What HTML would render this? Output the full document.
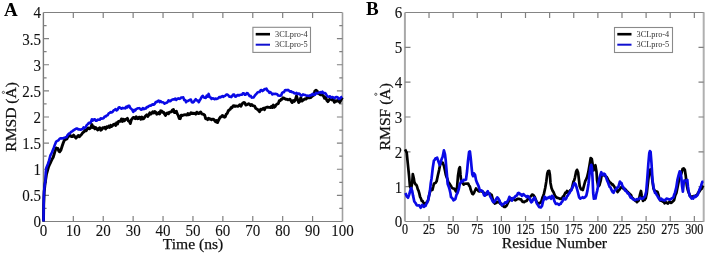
<!DOCTYPE html>
<html><head><meta charset="utf-8"><style>
html,body{margin:0;padding:0;background:#fff;}
svg{display:block;will-change:transform;}
text{font-family:"Liberation Serif",serif;fill:#111;}
.t{font-size:16px;stroke:#111;stroke-width:0.1px;}
.tb{font-size:13.4px;stroke:#111;stroke-width:0.22px;}
.ti{font-size:15.6px;stroke:#111;stroke-width:0.25px;}
.pl{font-size:19px;font-weight:bold;fill:#000;}
.lg{font-size:8.3px;fill:#333;}
</style></head><body>
<svg width="707" height="254" viewBox="0 0 707 254">
<path d="M43.4 12.5H342.5M43.4 221.5H342.5" stroke="#808080" stroke-width="1.15"/>
<path d="M43.4 12.5V221.5" stroke="#7a7a7a" stroke-width="1.4"/>
<path d="M342.5 12.5V221.5" stroke="#a0a0a0" stroke-width="1.6"/>
<path d="M73.31 221.5v-5.6M73.31 12.5v5.6M103.22 221.5v-5.6M103.22 12.5v5.6M133.13 221.5v-5.6M133.13 12.5v5.6M163.04 221.5v-5.6M163.04 12.5v5.6M192.95 221.5v-5.6M192.95 12.5v5.6M222.86 221.5v-5.6M222.86 12.5v5.6M252.77 221.5v-5.6M252.77 12.5v5.6M282.68 221.5v-5.6M282.68 12.5v5.6M312.59 221.5v-5.6M312.59 12.5v5.6M43.4 208.44h3.2M342.5 208.44h-3.2M43.4 195.38h5.6M342.5 195.38h-5.6M43.4 182.31h3.2M342.5 182.31h-3.2M43.4 169.25h5.6M342.5 169.25h-5.6M43.4 156.19h3.2M342.5 156.19h-3.2M43.4 143.12h5.6M342.5 143.12h-5.6M43.4 130.06h3.2M342.5 130.06h-3.2M43.4 117.00h5.6M342.5 117.00h-5.6M43.4 103.94h3.2M342.5 103.94h-3.2M43.4 90.88h5.6M342.5 90.88h-5.6M43.4 77.81h3.2M342.5 77.81h-3.2M43.4 64.75h5.6M342.5 64.75h-5.6M43.4 51.69h3.2M342.5 51.69h-3.2M43.4 38.62h5.6M342.5 38.62h-5.6M43.4 25.56h3.2M342.5 25.56h-3.2" stroke="#808080" stroke-width="1.2" fill="none"/>
<text transform="translate(43.40 235.6) scale(0.94 1.09)" class="t" text-anchor="middle">0</text>
<text transform="translate(73.31 235.6) scale(0.94 1.09)" class="t" text-anchor="middle">10</text>
<text transform="translate(103.22 235.6) scale(0.94 1.09)" class="t" text-anchor="middle">20</text>
<text transform="translate(133.13 235.6) scale(0.94 1.09)" class="t" text-anchor="middle">30</text>
<text transform="translate(163.04 235.6) scale(0.94 1.09)" class="t" text-anchor="middle">40</text>
<text transform="translate(192.95 235.6) scale(0.94 1.09)" class="t" text-anchor="middle">50</text>
<text transform="translate(222.86 235.6) scale(0.94 1.09)" class="t" text-anchor="middle">60</text>
<text transform="translate(252.77 235.6) scale(0.94 1.09)" class="t" text-anchor="middle">70</text>
<text transform="translate(282.68 235.6) scale(0.94 1.09)" class="t" text-anchor="middle">80</text>
<text transform="translate(312.59 235.6) scale(0.94 1.09)" class="t" text-anchor="middle">90</text>
<text transform="translate(342.50 235.6) scale(0.94 1.09)" class="t" text-anchor="middle">100</text>
<text transform="translate(41 227.40) scale(0.94 1.09)" class="t" text-anchor="end">0</text>
<text transform="translate(41 201.28) scale(0.94 1.09)" class="t" text-anchor="end">0.5</text>
<text transform="translate(41 175.15) scale(0.94 1.09)" class="t" text-anchor="end">1</text>
<text transform="translate(41 149.03) scale(0.94 1.09)" class="t" text-anchor="end">1.5</text>
<text transform="translate(41 122.90) scale(0.94 1.09)" class="t" text-anchor="end">2</text>
<text transform="translate(41 96.78) scale(0.94 1.09)" class="t" text-anchor="end">2.5</text>
<text transform="translate(41 70.65) scale(0.94 1.09)" class="t" text-anchor="end">3</text>
<text transform="translate(41 44.52) scale(0.94 1.09)" class="t" text-anchor="end">3.5</text>
<text transform="translate(41 18.40) scale(0.94 1.09)" class="t" text-anchor="end">4</text>
<text x="193" y="249" class="ti" text-anchor="middle">Time (ns)</text>
<text transform="translate(16.2 116.9) rotate(-90)" class="ti" text-anchor="middle">RMSD (A)</text>
<circle cx="3.4" cy="92.4" r="1.1" fill="none" stroke="#333" stroke-width="0.8"/>
<text x="4" y="15.5" class="pl">A</text>
<path d="M404.9 12.5H704.2M404.9 221.5H704.2" stroke="#858585" stroke-width="1.15"/>
<path d="M404.9 12.5V221.5" stroke="#a8a8a8" stroke-width="2"/>
<path d="M703.7 12.5V221.5" stroke="#b0b0b0" stroke-width="2.0"/>
<path d="M429.02 221.5v-5.6M429.02 12.5v5.6M453.14 221.5v-5.6M453.14 12.5v5.6M477.26 221.5v-5.6M477.26 12.5v5.6M501.38 221.5v-5.6M501.38 12.5v5.6M525.50 221.5v-5.6M525.50 12.5v5.6M549.63 221.5v-5.6M549.63 12.5v5.6M573.75 221.5v-5.6M573.75 12.5v5.6M597.87 221.5v-5.6M597.87 12.5v5.6M621.99 221.5v-5.6M621.99 12.5v5.6M646.11 221.5v-5.6M646.11 12.5v5.6M670.23 221.5v-5.6M670.23 12.5v5.6M694.35 221.5v-5.6M694.35 12.5v5.6M404.9 186.67h5.6M703.7 186.67h-5.2M404.9 151.83h5.6M703.7 151.83h-5.2M404.9 117.00h5.6M703.7 117.00h-5.2M404.9 82.17h5.6M703.7 82.17h-5.2M404.9 47.33h5.6M703.7 47.33h-5.2" stroke="#808080" stroke-width="1.2" fill="none"/>
<text transform="translate(404.90 234) scale(0.9 1.07)" class="tb" text-anchor="middle">0</text>
<text transform="translate(429.02 234) scale(0.9 1.07)" class="tb" text-anchor="middle">25</text>
<text transform="translate(453.14 234) scale(0.9 1.07)" class="tb" text-anchor="middle">50</text>
<text transform="translate(477.26 234) scale(0.9 1.07)" class="tb" text-anchor="middle">75</text>
<text transform="translate(501.38 234) scale(0.9 1.07)" class="tb" text-anchor="middle">100</text>
<text transform="translate(525.50 234) scale(0.9 1.07)" class="tb" text-anchor="middle">125</text>
<text transform="translate(549.63 234) scale(0.9 1.07)" class="tb" text-anchor="middle">150</text>
<text transform="translate(573.75 234) scale(0.9 1.07)" class="tb" text-anchor="middle">175</text>
<text transform="translate(597.87 234) scale(0.9 1.07)" class="tb" text-anchor="middle">200</text>
<text transform="translate(621.99 234) scale(0.9 1.07)" class="tb" text-anchor="middle">225</text>
<text transform="translate(646.11 234) scale(0.9 1.07)" class="tb" text-anchor="middle">250</text>
<text transform="translate(670.23 234) scale(0.9 1.07)" class="tb" text-anchor="middle">275</text>
<text transform="translate(694.35 234) scale(0.9 1.07)" class="tb" text-anchor="middle">300</text>
<text transform="translate(402.3 227.40) scale(0.94 1.09)" class="t" text-anchor="end">0</text>
<text transform="translate(402.3 192.57) scale(0.94 1.09)" class="t" text-anchor="end">1</text>
<text transform="translate(402.3 157.73) scale(0.94 1.09)" class="t" text-anchor="end">2</text>
<text transform="translate(402.3 122.90) scale(0.94 1.09)" class="t" text-anchor="end">3</text>
<text transform="translate(402.3 88.07) scale(0.94 1.09)" class="t" text-anchor="end">4</text>
<text transform="translate(402.3 53.23) scale(0.94 1.09)" class="t" text-anchor="end">5</text>
<text transform="translate(402.3 18.40) scale(0.94 1.09)" class="t" text-anchor="end">6</text>
<text x="554.4" y="247.6" class="ti" text-anchor="middle">Residue Number</text>
<text transform="translate(389.8 116.75) rotate(-90)" class="ti" text-anchor="middle">RMSF (A)</text>
<circle cx="375.8" cy="94.3" r="1.1" fill="none" stroke="#333" stroke-width="0.8"/>
<text x="366" y="15" class="pl">B</text>
<path d="M43.50,221.50 43.70,205.00 44.20,192.00 45.00,184.00 45.75,179.00 46.50,174.00 47.50,170.50 48.50,167.00 49.50,164.75 50.50,162.56 51.25,160.89 52.00,159.36 53.20,157.23 54.10,154.28 55.00,151.19 56.20,147.91 57.05,148.57 57.90,148.41 58.80,151.05 59.70,151.79 60.90,150.07 62.10,146.30 63.30,142.80 64.40,140.14 65.70,139.43 66.90,138.99 68.10,136.13 69.17,136.13 70.23,135.39 71.30,136.46 72.45,136.66 73.60,135.07 74.80,136.72 76.00,138.10 77.15,136.74 78.30,135.45 79.37,136.68 80.43,135.51 81.50,134.47 82.70,132.77 83.90,131.93 85.05,130.11 86.20,130.65 87.35,128.77 88.50,128.04 89.63,128.83 90.77,127.71 91.90,124.53 92.88,127.60 93.87,126.87 94.85,128.79 95.83,127.65 96.82,128.89 97.80,129.93 98.78,128.39 99.77,127.76 100.75,130.17 101.73,129.57 102.72,127.76 103.70,128.10 104.70,127.23 105.70,128.90 106.70,126.77 107.70,127.45 108.70,126.13 109.70,127.40 110.68,125.38 111.67,126.49 112.65,125.42 113.63,124.34 114.62,124.00 115.60,125.47 116.58,122.87 117.57,123.86 118.55,121.34 119.53,121.23 120.52,121.21 121.50,118.90 122.48,121.41 123.47,119.24 124.45,120.75 125.43,119.36 126.42,119.12 127.40,118.35 128.37,120.97 129.33,121.28 130.30,123.55 131.30,119.91 132.30,118.60 133.28,117.36 134.26,117.70 135.24,118.61 136.22,116.67 137.20,118.72 138.10,118.67 139.00,117.28 139.90,117.32 140.88,119.22 141.87,116.96 142.85,118.89 143.83,118.52 144.82,116.91 145.80,115.67 146.80,114.70 147.80,116.51 148.80,114.95 149.80,112.86 150.78,114.11 151.75,113.13 152.72,111.69 153.70,112.98 154.70,111.42 155.70,112.13 156.70,114.18 157.70,113.83 158.67,112.48 159.65,113.85 160.62,110.83 161.60,110.97 162.57,112.35 163.55,112.16 164.53,113.96 165.50,115.50 166.50,113.28 167.50,112.94 168.50,113.79 169.50,112.08 170.47,112.10 171.45,111.73 172.43,109.96 173.40,109.48 174.38,112.52 175.35,112.48 176.33,111.24 177.30,113.89 178.30,115.66 179.30,118.56 180.28,118.67 181.25,115.17 182.22,115.58 183.20,115.21 184.14,114.88 185.08,114.71 186.02,114.87 186.96,115.13 187.90,113.47 188.90,114.72 189.90,114.34 190.90,112.76 191.90,113.50 192.88,113.18 193.85,113.62 194.83,113.23 195.80,114.09 196.78,112.14 197.75,113.14 198.72,113.57 199.70,112.69 200.70,112.04 201.70,113.77 202.70,114.09 203.70,114.45 204.67,115.15 205.63,118.71 206.60,118.38 207.60,119.68 208.60,118.26 209.60,119.15 210.57,119.00 211.55,119.74 212.53,119.25 213.50,119.18 214.50,120.32 215.50,121.71 216.50,120.48 217.50,122.59 218.47,120.50 219.45,118.49 220.43,116.92 221.40,116.81 222.38,115.42 223.35,115.99 224.33,117.19 225.30,116.83 226.30,114.12 227.30,113.35 228.30,110.75 229.27,110.01 230.23,109.21 231.20,107.49 232.14,107.67 233.08,105.86 234.02,105.63 234.96,106.49 235.90,106.07 236.90,106.11 237.90,106.33 238.90,105.58 239.90,104.71 240.88,106.20 241.85,104.37 242.83,102.96 243.80,102.50 244.78,102.81 245.75,104.94 246.72,104.81 247.70,104.34 248.70,103.76 249.70,104.32 250.70,105.44 251.70,104.47 252.67,105.56 253.65,105.80 254.62,106.05 255.60,108.19 256.60,108.86 257.60,109.56 258.60,110.62 259.60,111.67 260.58,109.29 261.55,109.87 262.52,108.85 263.50,108.18 264.48,109.68 265.45,107.66 266.42,107.39 267.40,107.07 268.40,107.30 269.40,107.37 270.40,107.57 271.40,106.37 272.38,107.59 273.35,105.07 274.32,107.21 275.30,106.40 276.30,104.65 277.30,103.99 278.30,103.66 279.27,100.67 280.23,100.65 281.20,99.19 282.10,99.37 283.00,97.79 283.90,98.08 284.90,98.68 285.90,99.34 286.90,99.23 287.90,99.82 288.95,99.63 290.00,99.15 291.10,101.10 292.20,102.54 293.25,100.46 294.30,101.35 295.40,99.68 296.50,95.95 297.60,99.60 298.70,102.55 299.75,101.46 300.80,97.76 301.90,101.13 303.00,100.23 304.07,99.44 305.13,98.85 306.20,99.07 307.30,97.01 308.40,97.71 309.50,97.78 310.57,97.57 311.63,96.61 312.70,95.77 313.80,95.20 314.90,90.93 316.00,90.32 317.05,90.92 318.10,93.41 319.20,93.69 320.30,94.87 321.40,94.89 322.47,95.01 323.53,96.02 324.60,98.29 325.70,97.41 326.80,100.26 327.90,101.65 328.97,100.21 330.03,98.81 331.10,99.40 332.20,100.12 333.30,99.10 334.40,102.33 335.47,100.82 336.53,101.37 337.60,100.44 338.70,101.06 339.80,102.44 341.05,99.92 342.30,97.47" fill="none" stroke="#000" stroke-width="2.9" stroke-linejoin="round"/>
<path d="M43.50,221.50 43.60,210.00 43.80,197.30 44.20,190.00 44.70,185.20 45.50,180.00 45.70,173.00 46.30,168.00 47.10,166.00 47.90,164.00 49.10,160.40 50.30,155.70 51.15,153.98 52.00,152.24 52.90,150.04 53.80,147.72 55.00,144.41 56.20,141.54 57.35,140.94 58.50,140.35 59.70,138.63 60.90,138.18 62.10,138.34 63.30,138.21 64.37,137.86 65.43,137.31 66.50,137.22 67.70,134.86 68.90,133.60 69.93,133.39 70.97,131.88 72.00,131.45 73.07,130.61 74.13,129.84 75.20,129.27 76.23,128.56 77.27,128.58 78.30,129.37 79.37,129.39 80.43,129.79 81.50,129.25 82.53,129.20 83.57,127.42 84.60,128.07 85.67,127.27 86.73,125.10 87.80,124.11 88.90,122.76 90.00,123.16 90.95,121.88 91.90,119.30 92.88,120.50 93.87,119.57 94.85,119.24 95.83,120.71 96.82,120.77 97.80,119.61 98.78,119.70 99.77,119.80 100.75,118.28 101.73,118.66 102.72,118.54 103.70,118.08 104.70,116.56 105.70,116.50 106.70,115.42 107.70,115.22 108.70,113.43 109.70,112.93 110.68,112.11 111.67,112.45 112.65,111.83 113.63,110.35 114.62,109.79 115.60,109.19 116.57,110.35 117.55,109.82 118.53,107.74 119.50,107.26 120.48,108.11 121.47,108.73 122.45,107.88 123.43,108.18 124.42,108.09 125.40,108.34 126.38,106.58 127.35,107.37 128.33,105.80 129.30,105.91 130.30,108.02 131.30,108.89 132.30,109.89 133.30,111.93 134.28,109.84 135.25,110.49 136.22,109.07 137.20,108.52 138.14,108.33 139.08,108.16 140.02,108.63 140.96,109.71 141.90,109.47 142.88,108.09 143.85,109.11 144.83,108.61 145.80,108.46 146.80,106.95 147.80,107.23 148.80,106.13 149.80,105.58 150.78,105.60 151.75,104.91 152.72,104.22 153.70,104.73 154.70,103.96 155.70,102.01 156.70,102.20 157.70,101.10 158.67,100.50 159.65,102.10 160.62,101.15 161.60,102.10 162.57,102.23 163.55,102.47 164.53,103.65 165.50,103.13 166.50,102.70 167.50,102.26 168.50,100.32 169.50,101.12 170.47,101.23 171.45,100.13 172.43,99.49 173.40,99.41 174.38,99.44 175.35,98.54 176.33,99.85 177.30,98.88 178.30,98.37 179.30,98.86 180.30,98.51 181.30,97.46 182.30,97.47 183.27,97.36 184.23,100.07 185.20,99.95 186.10,102.18 187.00,101.09 187.97,101.05 188.93,100.36 189.90,99.84 190.90,99.61 191.90,102.27 192.90,102.43 193.87,101.66 194.83,100.28 195.80,99.20 196.80,100.46 197.80,100.62 198.80,102.20 199.78,100.16 200.75,98.72 201.72,96.94 202.70,95.79 203.70,97.19 204.70,97.83 205.70,97.94 206.67,95.65 207.63,96.63 208.60,93.93 209.60,97.00 210.60,97.46 211.60,98.97 212.57,98.30 213.55,98.61 214.53,99.19 215.50,98.52 216.47,98.99 217.45,98.57 218.43,98.04 219.40,96.97 220.40,97.35 221.40,96.63 222.40,96.10 223.40,96.84 224.37,96.02 225.33,95.74 226.30,94.58 227.30,94.57 228.30,95.32 229.30,96.60 230.30,96.67 231.27,97.06 232.23,95.98 233.20,94.43 234.10,94.55 235.00,96.47 235.90,96.62 236.90,95.47 237.90,94.98 238.90,95.49 239.90,94.94 240.88,94.81 241.85,94.79 242.83,93.41 243.80,93.27 244.78,94.66 245.75,94.67 246.72,93.06 247.70,93.18 248.70,94.83 249.70,96.09 250.70,95.91 251.70,97.59 252.70,97.56 253.67,97.40 254.63,95.81 255.60,94.64 256.60,93.60 257.60,92.38 258.60,91.95 259.60,92.06 260.58,90.33 261.55,90.03 262.52,91.03 263.50,90.27 264.47,89.16 265.43,89.23 266.40,88.55 267.40,90.61 268.40,91.22 269.40,92.78 270.40,92.04 271.40,93.07 272.40,94.47 273.38,93.80 274.35,94.01 275.32,93.79 276.30,94.06 277.27,94.35 278.25,95.58 279.23,95.70 280.20,95.59 281.13,95.47 282.07,93.01 283.00,92.21 283.97,92.11 284.93,90.31 285.90,90.07 286.92,90.36 287.95,89.89 288.98,90.52 290.00,91.74 291.07,91.31 292.15,92.28 293.23,92.27 294.30,93.24 295.40,93.55 296.50,92.90 297.60,94.08 298.70,93.53 299.77,94.01 300.85,95.46 301.93,95.55 303.00,94.42 304.07,94.83 305.15,95.09 306.23,95.42 307.30,95.67 308.38,95.73 309.45,95.89 310.53,95.06 311.60,95.34 312.70,93.79 313.80,94.76 314.90,94.81 316.00,92.89 317.07,93.37 318.15,92.92 319.23,92.45 320.30,92.17 321.37,92.85 322.43,91.75 323.50,93.10 324.60,92.95 325.70,93.64 326.80,95.65 327.87,96.67 328.93,96.73 330.00,96.34 331.10,97.72 332.20,96.95 333.30,97.36 334.37,98.23 335.43,97.53 336.50,97.02 337.60,97.27 338.70,98.88 339.80,98.65 341.05,97.28 342.30,96.53" fill="none" stroke="#0a0ae6" stroke-width="2.6" stroke-linejoin="round"/>
<path d="M405.10,149.40 405.90,151.00 406.70,152.59 407.50,160.57 408.30,168.41 409.10,176.33 409.90,186.18 411.10,188.68 412.20,183.02 412.80,174.02 413.80,178.23 414.30,181.65 415.40,184.30 416.20,184.70 417.00,186.34 417.75,189.04 418.50,190.53 419.30,193.38 420.10,196.89 420.90,198.31 421.70,200.86 422.50,200.78 423.30,202.33 424.05,203.56 424.80,204.49 425.60,203.25 426.40,202.69 427.20,201.69 428.00,200.77 428.80,196.40 429.60,193.35 430.35,191.11 431.10,188.80 432.40,189.90 433.15,186.98 433.90,183.71 434.70,183.26 435.50,182.99 436.60,181.36 437.90,175.24 439.10,170.07 440.20,164.37 441.30,162.56 442.60,162.64 443.90,165.78 445.00,170.77 445.75,174.49 446.50,176.98 447.30,178.61 448.10,181.63 448.90,182.97 449.70,183.94 450.50,185.34 451.30,186.52 452.05,187.99 452.80,188.32 453.60,188.48 454.40,188.92 455.20,190.36 456.00,191.62 457.10,186.80 458.00,175.65 459.10,168.72 459.90,167.12 460.50,174.66 461.30,181.82 462.45,182.87 463.60,184.59 464.80,183.72 466.00,183.75 467.15,183.56 468.30,183.70 469.10,185.65 469.90,186.48 470.70,189.60 471.50,191.72 472.30,193.80 473.10,194.14 473.85,193.07 474.60,191.46 476.00,188.52 476.80,189.70 477.60,189.73 478.55,191.16 479.50,191.38 480.50,190.68 481.50,191.46 482.70,191.64 483.90,193.16 484.70,193.32 485.50,194.96 486.25,194.34 487.00,194.44 487.80,193.51 488.60,193.45 489.40,194.00 490.20,193.70 490.95,194.96 491.70,194.95 492.50,198.20 493.30,201.65 494.10,202.61 494.90,203.52 495.70,202.22 496.50,202.79 497.25,201.78 498.00,201.89 498.80,202.34 499.60,202.31 500.40,203.97 501.20,203.69 502.40,205.66 503.60,206.21 504.35,206.96 505.10,207.02 505.90,206.27 506.70,205.55 508.00,202.66 509.10,200.58 510.25,200.12 511.40,198.36 512.27,198.95 513.13,199.45 514.00,199.16 515.20,200.26 516.40,199.70 517.55,198.83 518.70,198.85 519.90,199.29 521.10,199.26 521.90,201.07 522.70,201.93 523.45,201.63 524.20,202.12 525.40,201.27 526.60,200.87 527.80,199.20 529.00,198.50 529.75,197.47 530.50,196.51 531.30,195.87 532.10,194.54 532.90,194.86 533.70,195.38 534.85,197.17 536.00,200.48 536.80,202.07 537.60,203.01 538.40,203.17 539.20,203.45 540.00,202.71 540.80,202.38 541.55,200.81 542.30,198.05 543.10,196.08 543.90,193.91 545.20,188.06 546.30,181.46 547.30,173.52 548.00,171.36 549.20,170.87 549.90,174.79 550.50,182.90 551.50,187.90 552.60,190.68 553.60,192.32 554.35,194.20 555.10,195.97 556.30,197.27 557.50,197.98 558.70,198.18 559.90,198.82 561.05,198.71 562.20,198.08 563.00,196.41 563.80,196.10 564.60,194.25 565.40,192.57 566.20,192.96 567.00,190.99 567.75,192.47 568.50,192.39 569.30,191.58 570.10,190.37 570.90,190.12 571.70,189.09 572.55,185.49 573.40,181.77 574.20,180.40 575.00,177.30 576.10,171.64 577.00,169.80 578.10,172.46 578.90,179.46 579.70,186.27 581.10,189.34 581.95,189.25 582.80,190.08 584.00,185.67 585.20,181.23 586.15,179.39 587.10,177.13 588.30,172.13 589.60,164.63 590.70,158.02 591.80,158.98 592.80,165.20 593.50,170.34 594.30,167.40 595.40,165.24 596.50,171.67 597.10,180.60 598.20,186.56 599.40,185.40 600.70,180.74 601.80,174.50 602.60,175.24 603.40,174.34 604.20,174.83 605.00,175.87 605.75,176.37 606.50,176.86 607.30,178.05 608.10,179.59 608.90,180.92 609.70,182.50 610.50,182.67 611.30,183.51 612.05,184.57 612.80,184.44 613.60,185.64 614.40,186.71 615.20,188.52 616.00,188.48 616.80,190.62 617.60,192.06 618.35,191.02 619.10,190.04 619.90,189.10 620.70,187.73 621.50,187.00 622.30,187.07 623.10,188.28 623.90,189.10 624.95,188.92 626.00,190.27 627.00,191.29 628.00,192.23 629.00,193.35 630.00,194.13 631.00,195.06 632.00,197.49 633.00,198.23 634.25,200.01 635.50,200.89 636.25,201.01 637.00,202.15 637.80,201.09 638.60,200.76 639.90,194.94 641.00,190.97 641.70,195.55 643.00,200.83 643.80,199.50 644.60,199.92 645.70,198.35 646.80,193.29 648.00,182.44 649.20,172.36 650.40,169.40 651.50,174.12 652.50,181.34 653.50,188.56 654.30,190.43 655.10,190.70 655.90,191.31 656.70,191.46 657.50,191.89 658.30,194.36 659.10,197.59 659.85,199.16 660.60,200.67 661.80,200.80 663.00,201.76 663.80,201.74 664.60,203.29 666.00,202.18 667.00,202.99 668.00,203.53 669.00,202.20 670.00,202.12 671.00,202.82 672.00,202.23 673.00,201.35 674.00,200.30 675.25,195.49 676.50,192.61 677.50,187.42 678.50,182.41 679.40,179.11 680.30,176.29 681.30,173.78 682.60,168.95 683.70,168.33 684.80,169.81 685.70,175.52 686.80,185.43 687.60,189.29 688.40,191.92 689.20,193.57 690.00,196.00 691.15,196.43 692.30,197.20 693.50,196.03 694.70,196.88 695.85,195.52 697.00,195.04 698.20,192.61 699.40,191.64 700.60,189.55 701.80,188.72 702.65,186.57 703.50,185.70" fill="none" stroke="#000" stroke-width="2.7" stroke-linejoin="round"/>
<path d="M405.50,193.10 406.70,196.28 408.00,197.71 409.10,194.87 410.20,190.99 411.10,188.07 412.20,190.92 413.00,195.39 414.30,201.50 415.10,202.55 415.90,203.66 416.65,205.10 417.40,205.50 418.20,205.52 419.00,205.30 419.80,206.12 420.60,207.78 421.40,206.36 422.20,204.93 423.10,206.33 424.00,206.89 424.80,205.63 425.60,205.85 426.40,203.78 427.20,202.52 428.00,200.20 428.80,197.41 430.00,190.33 430.80,182.88 431.60,178.21 432.80,167.60 433.90,160.65 434.70,159.84 435.50,158.40 436.30,158.62 437.10,157.65 437.90,160.01 438.70,162.22 439.80,165.19 441.00,161.22 441.80,158.62 442.60,157.02 443.90,150.40 445.00,154.30 445.70,160.06 446.00,164.01 447.00,175.63 447.70,184.10 448.55,186.16 449.40,188.74 450.50,193.57 451.00,197.04 451.85,197.82 452.70,198.72 453.50,200.25 454.30,199.84 455.40,198.96 456.50,194.77 457.60,192.76 458.70,189.40 459.80,183.99 460.65,182.76 461.50,180.90 462.55,181.56 463.60,179.86 464.80,180.07 466.00,179.58 467.10,171.00 468.00,160.84 469.10,151.95 469.90,151.44 470.70,157.85 471.50,166.30 472.30,174.32 473.10,176.09 473.90,173.31 475.00,174.75 476.00,180.07 477.20,183.18 478.40,185.62 479.15,188.00 479.90,190.77 480.70,190.30 481.50,190.61 482.30,190.96 483.10,192.07 483.90,194.97 484.70,195.66 485.45,194.96 486.20,194.11 487.00,192.08 487.80,191.28 488.60,193.21 489.40,194.03 490.20,196.39 491.00,197.75 491.75,199.25 492.50,200.83 493.30,202.19 494.10,202.20 494.90,201.19 495.70,199.76 496.50,198.53 497.30,197.39 498.05,198.20 498.80,199.35 499.60,200.73 500.40,203.29 501.20,204.00 502.00,205.41 502.80,204.09 503.60,203.94 504.35,203.62 505.10,202.41 505.90,202.63 506.70,202.63 507.50,201.30 508.30,200.05 509.40,196.89 510.60,198.10 511.90,200.68 513.20,198.11 514.60,197.61 515.60,196.10 516.35,195.81 517.10,195.27 517.90,193.23 518.70,192.85 519.50,193.34 520.30,194.44 521.10,194.46 521.90,195.88 522.65,195.13 523.40,194.08 524.20,195.13 525.00,195.66 525.80,196.16 526.60,197.13 527.40,195.99 528.20,196.19 528.95,197.51 529.70,198.09 530.50,200.89 531.30,202.26 532.10,201.63 532.90,199.71 533.70,198.59 534.50,197.49 535.25,199.70 536.00,200.84 536.80,203.46 537.60,204.52 538.40,205.81 539.20,207.08 540.00,207.06 540.80,207.43 542.00,205.88 543.10,201.09 543.90,199.43 544.70,196.72 545.50,198.04 546.30,199.19 547.10,197.80 547.90,198.06 548.65,197.69 549.40,196.82 550.20,197.08 551.00,198.79 552.00,195.90 553.30,196.85 554.40,201.18 555.15,202.79 555.90,203.86 556.70,203.79 557.50,203.62 558.30,204.36 559.10,204.87 559.90,204.03 560.70,203.74 561.45,202.38 562.20,201.58 563.00,200.09 563.80,198.11 564.60,199.28 565.40,199.47 566.20,198.48 567.00,196.33 567.75,195.70 568.50,194.09 569.30,193.37 570.10,191.68 570.90,190.74 571.70,189.32 572.50,187.36 573.30,185.65 574.40,183.03 575.60,184.19 576.90,188.49 578.00,192.77 579.10,197.24 580.30,198.56 581.10,197.96 581.90,197.64 582.70,197.21 583.50,197.91 584.30,197.78 585.10,197.18 586.30,195.67 587.40,190.88 588.50,183.69 589.50,174.46 590.50,167.03 591.30,164.83 592.00,168.35 592.60,179.49 593.20,193.01 593.90,198.73 594.70,198.20 595.50,198.47 596.30,194.22 597.10,191.12 597.90,187.00 598.70,181.63 599.45,178.15 600.20,175.55 601.30,172.24 602.60,174.99 603.90,173.61 605.00,174.37 606.10,177.39 607.30,180.96 608.10,182.62 608.90,184.99 609.70,186.94 610.50,187.34 611.25,189.45 612.00,190.96 612.80,192.15 613.60,192.75 614.40,190.62 615.20,190.07 616.00,189.19 616.80,188.12 617.55,187.25 618.30,187.15 619.10,184.45 619.90,181.63 620.70,182.55 621.50,183.15 622.30,185.62 623.10,187.08 623.85,188.14 624.60,189.34 625.40,190.99 626.20,190.96 627.00,192.18 627.80,193.38 628.60,193.28 629.40,195.01 630.70,197.52 631.50,197.17 632.30,198.61 633.10,199.42 633.90,199.25 634.65,200.10 635.40,199.85 636.20,199.56 637.00,199.17 637.80,199.36 638.60,199.08 639.40,198.66 640.20,197.69 640.95,198.49 641.70,198.77 642.50,198.66 643.30,198.22 644.10,196.88 644.90,196.54 646.20,191.92 647.20,179.56 648.40,163.12 649.30,153.12 649.90,151.16 650.60,151.99 651.50,163.26 652.50,180.18 653.60,187.46 654.35,190.56 655.10,192.98 655.90,193.27 656.70,194.97 657.50,196.01 658.30,197.50 659.10,198.92 659.90,200.09 660.65,199.16 661.40,198.74 662.20,199.86 663.00,200.18 663.80,199.92 664.60,200.42 665.50,199.97 666.40,198.70 667.55,198.85 668.70,199.37 669.90,199.67 671.10,198.85 672.25,198.06 673.40,197.42 674.20,194.56 675.00,192.65 676.30,187.41 677.40,180.15 678.50,175.68 679.70,171.27 680.50,171.93 681.30,177.39 682.10,186.30 682.90,191.68 683.70,183.28 684.50,180.48 685.25,180.71 686.00,180.96 687.30,179.87 687.90,186.19 688.90,192.83 690.00,196.41 690.80,197.31 691.60,198.48 692.35,197.83 693.10,198.51 693.90,196.98 694.70,195.88 695.50,196.83 696.30,196.18 697.10,195.47 697.90,194.22 698.65,192.17 699.40,189.69 700.20,188.11 701.00,185.89 702.30,181.92 703.50,181.77" fill="none" stroke="#0a0ae6" stroke-width="2.7" stroke-linejoin="round"/>
<rect x="252.9" y="27.3" width="57.599999999999994" height="25.099999999999998" fill="#fff" stroke="#8a8a8a" stroke-width="1.1"/>
<path d="M255.7 34.2H270" stroke="#000" stroke-width="2.6"/>
<path d="M255.7 44.7H270" stroke="#1010d0" stroke-width="2.0"/>
<text x="275" y="36.6" class="lg">3CLpro-4</text>
<text x="275" y="47.1" class="lg">3CLpro-5</text>
<rect x="614.5" y="27.5" width="58.0" height="25.0" fill="#fff" stroke="#8a8a8a" stroke-width="1.1"/>
<path d="M617.3 34.2H631.5" stroke="#000" stroke-width="2.6"/>
<path d="M617.3 44.7H631.5" stroke="#1010d0" stroke-width="2.0"/>
<text x="636.5" y="36.6" class="lg">3CLpro-4</text>
<text x="636.5" y="47.1" class="lg">3CLpro-5</text>
</svg>
</body></html>
